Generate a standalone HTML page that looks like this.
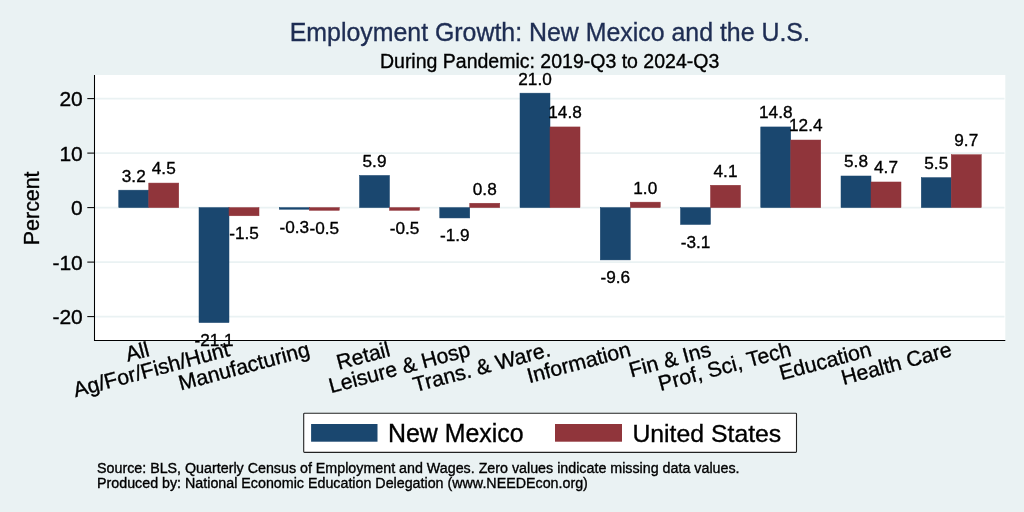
<!DOCTYPE html>
<html><head><meta charset="utf-8"><title>Employment Growth: New Mexico and the U.S.</title>
<style>
html,body{margin:0;padding:0;background:#eaf2f3;}
body{width:1024px;height:512px;overflow:hidden;}
svg{display:block;font-family:"Liberation Sans",Arial,Helvetica,sans-serif;}
text{fill:#000;stroke:#000;stroke-width:0.35px;}
</style></head><body>
<svg width="1024" height="512" viewBox="0 0 1024 512">
<rect x="0" y="0" width="1024" height="512" fill="#eaf2f3"/>
<rect x="95" y="75" width="910.3" height="265.5" fill="#ffffff"/>

<line x1="95" x2="1004.5" y1="98.60" y2="98.60" stroke="#eaf2f3" stroke-width="1.7"/>
<line x1="95" x2="1004.5" y1="153.10" y2="153.10" stroke="#eaf2f3" stroke-width="1.7"/>
<line x1="95" x2="1004.5" y1="207.60" y2="207.60" stroke="#eaf2f3" stroke-width="1.7"/>
<line x1="95" x2="1004.5" y1="262.10" y2="262.10" stroke="#eaf2f3" stroke-width="1.7"/>
<line x1="95" x2="1004.5" y1="316.60" y2="316.60" stroke="#eaf2f3" stroke-width="1.7"/>
<rect x="118.75" y="190.16" width="30.00" height="17.44" fill="#1a476f" stroke="#1a476f" stroke-width="0.5"/>
<rect x="148.75" y="183.07" width="30.00" height="24.53" fill="#90353b" stroke="#90353b" stroke-width="0.5"/>
<rect x="199.00" y="207.60" width="30.00" height="115.00" fill="#1a476f" stroke="#1a476f" stroke-width="0.5"/>
<rect x="229.00" y="207.60" width="30.00" height="8.18" fill="#90353b" stroke="#90353b" stroke-width="0.5"/>
<rect x="279.25" y="207.60" width="30.00" height="1.64" fill="#1a476f" stroke="#1a476f" stroke-width="0.5"/>
<rect x="309.25" y="207.60" width="30.00" height="2.73" fill="#90353b" stroke="#90353b" stroke-width="0.5"/>
<rect x="359.50" y="175.44" width="30.00" height="32.16" fill="#1a476f" stroke="#1a476f" stroke-width="0.5"/>
<rect x="389.50" y="207.60" width="30.00" height="2.73" fill="#90353b" stroke="#90353b" stroke-width="0.5"/>
<rect x="439.75" y="207.60" width="30.00" height="10.36" fill="#1a476f" stroke="#1a476f" stroke-width="0.5"/>
<rect x="469.75" y="203.24" width="30.00" height="4.36" fill="#90353b" stroke="#90353b" stroke-width="0.5"/>
<rect x="520.00" y="93.15" width="30.00" height="114.45" fill="#1a476f" stroke="#1a476f" stroke-width="0.5"/>
<rect x="550.00" y="126.94" width="30.00" height="80.66" fill="#90353b" stroke="#90353b" stroke-width="0.5"/>
<rect x="600.25" y="207.60" width="30.00" height="52.32" fill="#1a476f" stroke="#1a476f" stroke-width="0.5"/>
<rect x="630.25" y="202.15" width="30.00" height="5.45" fill="#90353b" stroke="#90353b" stroke-width="0.5"/>
<rect x="680.50" y="207.60" width="30.00" height="16.89" fill="#1a476f" stroke="#1a476f" stroke-width="0.5"/>
<rect x="710.50" y="185.25" width="30.00" height="22.34" fill="#90353b" stroke="#90353b" stroke-width="0.5"/>
<rect x="760.75" y="126.94" width="30.00" height="80.66" fill="#1a476f" stroke="#1a476f" stroke-width="0.5"/>
<rect x="790.75" y="140.02" width="30.00" height="67.58" fill="#90353b" stroke="#90353b" stroke-width="0.5"/>
<rect x="841.00" y="175.99" width="30.00" height="31.61" fill="#1a476f" stroke="#1a476f" stroke-width="0.5"/>
<rect x="871.00" y="181.98" width="30.00" height="25.62" fill="#90353b" stroke="#90353b" stroke-width="0.5"/>
<rect x="921.25" y="177.62" width="30.00" height="29.98" fill="#1a476f" stroke="#1a476f" stroke-width="0.5"/>
<rect x="951.25" y="154.74" width="30.00" height="52.86" fill="#90353b" stroke="#90353b" stroke-width="0.5"/>
<text x="133.75" y="181.56" font-size="17.2" text-anchor="middle">3.2</text>
<text x="163.75" y="174.47" font-size="17.2" text-anchor="middle">4.5</text>
<text x="214.00" y="346.00" font-size="17.2" text-anchor="middle">-21.1</text>
<text x="244.00" y="239.18" font-size="17.2" text-anchor="middle">-1.5</text>
<text x="294.25" y="232.63" font-size="17.2" text-anchor="middle">-0.3</text>
<text x="324.25" y="233.72" font-size="17.2" text-anchor="middle">-0.5</text>
<text x="374.50" y="166.84" font-size="17.2" text-anchor="middle">5.9</text>
<text x="404.50" y="233.72" font-size="17.2" text-anchor="middle">-0.5</text>
<text x="454.75" y="241.35" font-size="17.2" text-anchor="middle">-1.9</text>
<text x="484.75" y="194.64" font-size="17.2" text-anchor="middle">0.8</text>
<text x="535.00" y="84.55" font-size="17.2" text-anchor="middle">21.0</text>
<text x="565.00" y="118.34" font-size="17.2" text-anchor="middle">14.8</text>
<text x="615.25" y="283.32" font-size="17.2" text-anchor="middle">-9.6</text>
<text x="645.25" y="193.55" font-size="17.2" text-anchor="middle">1.0</text>
<text x="695.50" y="247.90" font-size="17.2" text-anchor="middle">-3.1</text>
<text x="725.50" y="176.66" font-size="17.2" text-anchor="middle">4.1</text>
<text x="775.75" y="118.34" font-size="17.2" text-anchor="middle">14.8</text>
<text x="805.75" y="131.42" font-size="17.2" text-anchor="middle">12.4</text>
<text x="856.00" y="167.39" font-size="17.2" text-anchor="middle">5.8</text>
<text x="886.00" y="173.38" font-size="17.2" text-anchor="middle">4.7</text>
<text x="936.25" y="169.03" font-size="17.2" text-anchor="middle">5.5</text>
<text x="966.25" y="146.14" font-size="17.2" text-anchor="middle">9.7</text>
<line x1="94.5" x2="94.5" y1="75" y2="340.9" stroke="#000" stroke-width="1.05"/>
<line x1="94" x2="1005.3" y1="340.4" y2="340.4" stroke="#000" stroke-width="1.05"/>
<line x1="87.3" x2="94.5" y1="98.60" y2="98.60" stroke="#000" stroke-width="1.05"/>
<text x="82.8" y="106.10" font-size="21" text-anchor="end">20</text>
<line x1="87.3" x2="94.5" y1="153.10" y2="153.10" stroke="#000" stroke-width="1.05"/>
<text x="82.8" y="160.60" font-size="21" text-anchor="end">10</text>
<line x1="87.3" x2="94.5" y1="207.60" y2="207.60" stroke="#000" stroke-width="1.05"/>
<text x="82.8" y="215.10" font-size="21" text-anchor="end">0</text>
<line x1="87.3" x2="94.5" y1="262.10" y2="262.10" stroke="#000" stroke-width="1.05"/>
<text x="82.8" y="269.60" font-size="21" text-anchor="end">-10</text>
<line x1="87.3" x2="94.5" y1="316.60" y2="316.60" stroke="#000" stroke-width="1.05"/>
<text x="82.8" y="324.10" font-size="21" text-anchor="end">-20</text>
<text transform="translate(38.8,208.3) rotate(-90)" font-size="21.4" text-anchor="middle">Percent</text>
<text transform="translate(150.45,355.7) rotate(-15)" font-size="21.25" text-anchor="end">All</text>
<text transform="translate(230.70,355.7) rotate(-15)" font-size="21.25" text-anchor="end">Ag/For/Fish/Hunt</text>
<text transform="translate(310.95,355.7) rotate(-15)" font-size="21.25" text-anchor="end">Manufacturing</text>
<text transform="translate(391.20,355.7) rotate(-15)" font-size="21.25" text-anchor="end">Retail</text>
<text transform="translate(471.45,355.7) rotate(-15)" font-size="21.25" text-anchor="end">Leisure &amp; Hosp</text>
<text transform="translate(551.70,355.7) rotate(-15)" font-size="21.25" text-anchor="end">Trans. &amp; Ware.</text>
<text transform="translate(631.95,355.7) rotate(-15)" font-size="21.25" text-anchor="end">Information</text>
<text transform="translate(712.20,355.7) rotate(-15)" font-size="21.25" text-anchor="end">Fin &amp; Ins</text>
<text transform="translate(792.45,355.7) rotate(-15)" font-size="21.25" text-anchor="end">Prof, Sci, Tech</text>
<text transform="translate(872.70,355.7) rotate(-15)" font-size="21.25" text-anchor="end">Education</text>
<text transform="translate(952.95,355.7) rotate(-15)" font-size="21.25" text-anchor="end">Health Care</text>
<text x="549.8" y="41" font-size="24.9" text-anchor="middle" style="fill:#1e2d53;stroke:#1e2d53">Employment Growth: New Mexico and the U.S.</text>
<text x="549.6" y="68.3" font-size="19.5" text-anchor="middle">During Pandemic: 2019-Q3 to 2024-Q3</text>
<rect x="303.7" y="413.2" width="492.8" height="39.2" rx="0.8" fill="#fff" stroke="#222" stroke-width="1.1"/>
<rect x="311.1" y="424" width="66.4" height="17.7" fill="#1a476f"/>
<text x="388" y="442.2" font-size="24.9">New Mexico</text>
<rect x="555" y="424" width="67" height="17.7" fill="#90353b"/>
<text x="632.4" y="442.2" font-size="24.8">United States</text>
<text x="97" y="472.5" font-size="14.27">Source: BLS, Quarterly Census of Employment and Wages. Zero values indicate missing data values.</text>
<text x="97" y="487.6" font-size="14.27">Produced by: National Economic Education Delegation (www.NEEDEcon.org)</text>
</svg></body></html>
